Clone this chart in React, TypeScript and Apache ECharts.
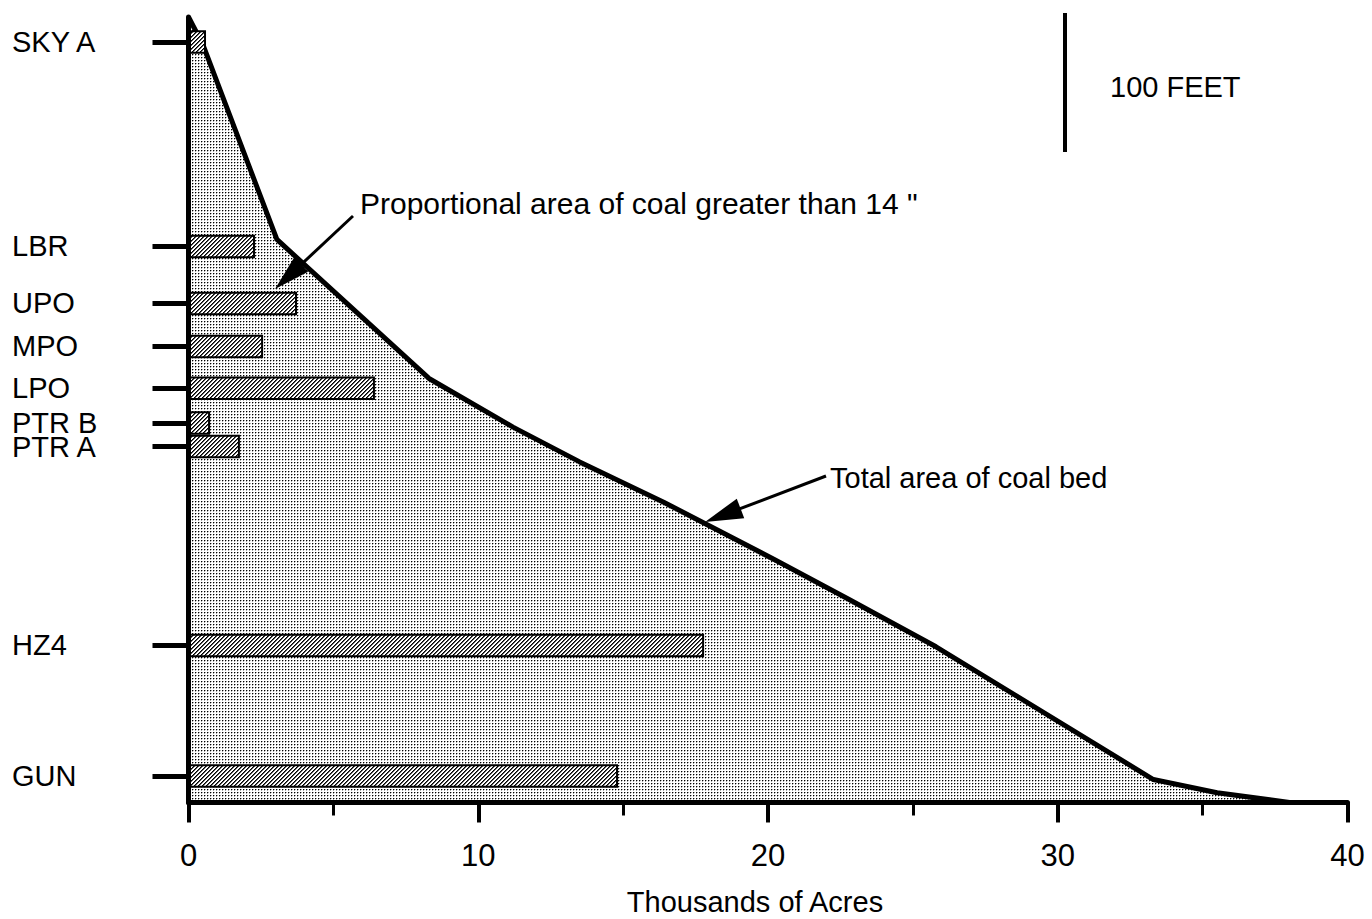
import React, { useEffect, useRef } from 'react';
import * as echarts from 'echarts';

const FONT = "'Liberation Sans', Arial, Helvetica, sans-serif";

// Coal beds (stratigraphic position in feet above the base line)
const coalBeds = ['SKY A', 'LBR', 'UPO', 'MPO', 'LPO', 'PTR B', 'PTR A', 'HZ4', 'GUN'];
const bedHeightFeet = [547, 400, 359, 328, 298, 273, 256, 113, 19];
// Proportional area of coal greater than 14" (thousands of acres)
const thickCoalArea = [0.57, 2.26, 3.71, 2.54, 6.4, 0.71, 1.74, 17.76, 14.79];

// Total area of coal bed outline (thousands of acres vs feet)
const totalAreaAcres = [0, 0.5, 3.05, 8.3, 11.2, 13.5, 16.4, 20.2, 22.8, 25.8, 33.3, 35.5, 38.0];
const totalAreaFeet = [565, 545, 405, 305, 270, 245, 216, 175, 146, 112, 16.5, 7, 0];

const xMin = 0;
const xMax = 40;
const xInterval = 10;
const yMax = 565;
const scaleBarFeet = 100;

function makeDots() {
  const c = document.createElement('canvas');
  c.width = 3;
  c.height = 3;
  const g = c.getContext('2d')!;
  g.fillStyle = '#ffffff';
  g.fillRect(0, 0, 3, 3);
  g.fillStyle = '#000000';
  g.fillRect(0, 0, 1, 1);
  g.fillStyle = '#a8a8a8';
  g.fillRect(1, 0, 1, 1);
  g.fillRect(0, 1, 1, 1);
  return c;
}

function makeHatch() {
  const c = document.createElement('canvas');
  c.width = 4;
  c.height = 4;
  const g = c.getContext('2d')!;
  g.fillStyle = '#ffffff';
  g.fillRect(0, 0, 4, 4);
  for (let i = 0; i < 4; i++) {
    g.fillStyle = '#000000';
    g.fillRect(i, 3 - i, 1, 1);
    g.fillStyle = '#555555';
    g.fillRect((i + 1) % 4, 3 - i, 1, 1);
  }
  return c;
}

function arrow(sx: number, sy: number, tx: number, ty: number, L: number, w: number, lw: number) {
  const dx = tx - sx;
  const dy = ty - sy;
  const len = Math.hypot(dx, dy);
  const ux = dx / len;
  const uy = dy / len;
  const bx = tx - L * ux;
  const by = ty - L * uy;
  const nx = -uy;
  const ny = ux;
  return [
    { type: 'line', z: 100, shape: { x1: sx, y1: sy, x2: bx + ux * 4, y2: by + uy * 4 }, style: { stroke: '#000', lineWidth: lw } },
    {
      type: 'polygon',
      z: 100,
      shape: { points: [[tx, ty], [bx + w * nx, by + w * ny], [bx - w * nx, by - w * ny]] },
      style: { fill: '#000' },
    },
  ];
}

export default function App() {
  const ref = useRef<HTMLDivElement>(null);

  useEffect(() => {
    if (!ref.current) return;
    const chart = echarts.init(ref.current, null, { renderer: 'svg' });
    const dotPattern = { image: makeDots(), repeat: 'repeat', imageWidth: 3, imageHeight: 3 };
    const hatchPattern = { image: makeHatch(), repeat: 'repeat', imageWidth: 4, imageHeight: 4 };
    const BAR_H = 21.5;

    const outline = totalAreaAcres.map((a, i) => [a, totalAreaFeet[i]]);
    const bars = thickCoalArea.map((v, i) => [v, bedHeightFeet[i]]);

    const option: any = {
      animation: false,
      backgroundColor: '#ffffff',
      textStyle: { fontFamily: FONT, color: '#000' },
      grid: { left: 188.5, right: 24.5, top: 17, bottom: 116.5, containLabel: false, outerBoundsMode: 'none' },
      xAxis: {
        type: 'value',
        min: xMin,
        max: xMax,
        interval: xInterval,
        z: 5,
        name: 'Thousands of Acres',
        nameLocation: 'middle',
        nameGap: 87.5,
        nameTextStyle: { fontSize: 29, lineHeight: 24, fontFamily: FONT, color: '#000', padding: [0, 26, 0, 0] },
        axisLine: { show: true, lineStyle: { color: '#000', width: 5 } },
        axisTick: { show: true, length: 20, lineStyle: { color: '#000', width: 4 } },
        minorTick: { show: true, splitNumber: 2, length: 13, lineStyle: { color: '#000', width: 3 } },
        axisLabel: { fontSize: 31, fontFamily: FONT, color: '#000', margin: 37 },
        splitLine: { show: false },
        minorSplitLine: { show: false },
      },
      yAxis: {
        type: 'value',
        min: 0,
        max: yMax,
        z: 5,
        axisLine: { show: true, lineStyle: { color: '#000', width: 5 } },
        axisTick: { show: true, customValues: bedHeightFeet, length: 36, lineStyle: { color: '#000', width: 5 } },
        axisLabel: {
          customValues: bedHeightFeet,
          formatter: (v: number) => {
            let best = 0;
            for (let i = 0; i < bedHeightFeet.length; i++) {
              if (Math.abs(bedHeightFeet[i] - v) < Math.abs(bedHeightFeet[best] - v)) best = i;
            }
            return coalBeds[best];
          },
          align: 'left',
          margin: 176.5,
          fontSize: 29,
          lineHeight: 22,
          fontFamily: FONT,
          color: '#000',
          hideOverlap: false,
        },
        splitLine: { show: false },
      },
      series: [
        {
          type: 'line',
          data: outline,
          showSymbol: false,
          symbol: 'none',
          silent: true,
          z: 2,
          lineStyle: { color: '#000', width: 5, join: 'round' },
          areaStyle: { color: dotPattern, opacity: 1 },
          emphasis: { disabled: true },
        },
        {
          type: 'custom',
          data: bars,
          encode: { x: 0, y: 1 },
          silent: true,
          z: 3,
          renderItem: (params: any, api: any) => {
            const v = api.value(0) as number;
            const d = api.value(1) as number;
            const s = api.coord([0, d]);
            const e = api.coord([v, d]);
            return {
              type: 'rect',
              shape: { x: s[0], y: s[1] - BAR_H / 2, width: e[0] - s[0], height: BAR_H },
              style: { fill: hatchPattern, stroke: '#000', lineWidth: 2 },
            };
          },
        },
      ],
    };
    chart.setOption(option);

    const y0 = chart.convertToPixel({ yAxisIndex: 0 }, 0) as number;
    const y100 = chart.convertToPixel({ yAxisIndex: 0 }, scaleBarFeet) as number;
    const barLen = Math.abs(y0 - y100);
    const barTop = 13;

    chart.setOption({
      graphic: {
        elements: [
          { type: 'line', z: 100, shape: { x1: 1065, y1: barTop, x2: 1065, y2: barTop + barLen }, style: { stroke: '#000', lineWidth: 4 } },
          {
            type: 'text',
            z: 100,
            x: 1110,
            y: 86.5,
            style: { text: '100 FEET', fontSize: 29, fontFamily: FONT, fill: '#000', verticalAlign: 'middle', align: 'left' },
          },
          {
            type: 'text',
            z: 100,
            x: 360,
            y: 203,
            style: {
              text: 'Proportional area of coal greater than 14 "',
              fontSize: 30,
              fontFamily: FONT,
              fill: '#000',
              verticalAlign: 'middle',
              align: 'left',
            },
          },
          ...arrow(353, 216, 275, 289, 36, 10, 3),
          {
            type: 'text',
            z: 100,
            x: 830,
            y: 477.5,
            style: { text: 'Total area of coal bed', fontSize: 29, fontFamily: FONT, fill: '#000', verticalAlign: 'middle', align: 'left' },
          },
          ...arrow(826, 476, 705, 522, 38, 10.5, 3),
        ],
      },
    });

    return () => chart.dispose();
  }, []);

  return (
    <div
      ref={ref}
      style={{ position: 'fixed', left: 0, top: 0, width: 1372, height: 919, background: '#fff' }}
    />
  );
}
